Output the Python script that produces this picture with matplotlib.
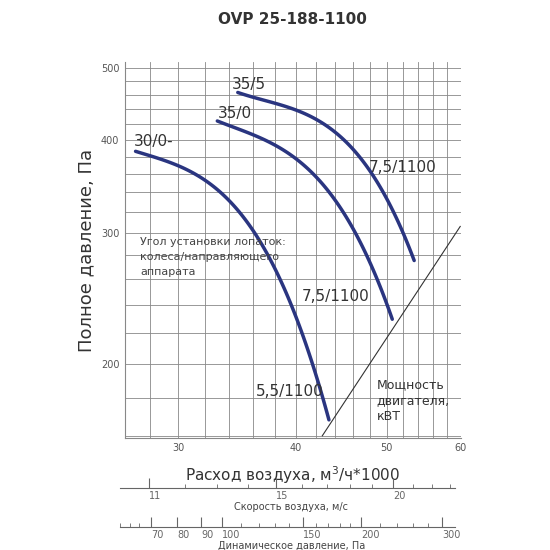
import matplotlib
matplotlib.use("Agg")
import matplotlib.pyplot as plt
import numpy as np
from matplotlib.ticker import FixedLocator, NullFormatter, ScalarFormatter

c1_x = [27.0, 30.2, 32.8, 35.7, 38.2, 40.5, 42.2, 43.4]
c1_y = [386, 368, 346, 306, 265, 222, 192, 167]
c2_x = [33.0, 37.2, 42.2, 45.9, 48.6, 50.7]
c2_y = [424, 400, 354, 306, 265, 229]
c3_x = [34.7, 38.8, 44.0, 48.6, 51.5, 53.5]
c3_y = [463, 446, 409, 354, 312, 274]
pw_x = [42.7, 59.9]
pw_y = [160, 306]
x_ticks = [30, 40, 50, 60]
y_ticks = [200, 300, 400, 500]
v_ticks = [11, 15, 20]
p_ticks = [70, 80, 90, 100, 150, 200, 300]

fig = plt.figure(figsize=(5.5, 5.5), dpi=100)
ax = fig.add_axes([0.227, 0.204, 0.611, 0.683])
ax.set_xscale('log'); ax.set_yscale('log')
ax.set_xlim(26.3, 60); ax.set_ylim(159, 509)
ax.xaxis.set_major_locator(FixedLocator(x_ticks))
ax.xaxis.set_minor_locator(FixedLocator(np.arange(28, 60, 2)))
ax.yaxis.set_major_locator(FixedLocator(y_ticks))
ax.yaxis.set_minor_locator(FixedLocator(np.arange(160, 509, 20)))
for a in (ax.xaxis, ax.yaxis):
    a.set_major_formatter(ScalarFormatter())
    a.set_minor_formatter(NullFormatter())
ax.grid(True, which='both', color='#888888', lw=0.6)
ax.tick_params(which='both', length=0, labelsize=7, colors='#555555', pad=4)
for s in ('top', 'right'):
    ax.spines[s].set_visible(False)
ax.spines['left'].set_color('#888888'); ax.spines['bottom'].set_color('#888888')

col = '#2a3580'
for xs, ys in ((c1_x, c1_y), (c2_x, c2_y), (c3_x, c3_y)):
    lx, ly = np.log(xs), np.log(ys)
    p = np.polyfit(lx, ly, 3)
    t = np.linspace(lx[0], lx[-1], 100)
    ax.plot(np.exp(t), np.exp(np.polyval(p, t)), color=col, lw=2.5, solid_capstyle='round')
ax.plot(pw_x, pw_y, color='#333333', lw=0.8)

ax.text(26.9, 392, '30/0-', fontsize=11, color='#333333')
ax.text(33.0, 428, '35/0', fontsize=11, color='#333333')
ax.text(34.2, 468, '35/5', fontsize=11, color='#333333')
ax.text(47.8, 362, '7,5/1100', fontsize=11, color='#333333')
ax.text(40.6, 243, '7,5/1100', fontsize=11, color='#333333')
ax.text(36.3, 181, '5,5/1100', fontsize=11, color='#333333')
ax.text(27.3, 262, 'Угол установки лопаток:\nколеса/направляющего\nаппарата', fontsize=8,
        color='#444444', linespacing=1.6, va='bottom')
ax.text(48.8, 168, 'Мощность\nдвигателя,\nкВТ', fontsize=9, color='#333333', linespacing=1.3)

ax.set_ylabel('Полное давление, Па', fontsize=13, color='#333333')
ax.set_xlabel('Расход воздуха, м$^3$/ч*1000', fontsize=11, color='#333333', labelpad=8)
fig.text(0.532, 0.965, 'OVP 25-188-1100', ha='center', va='center', fontsize=11, weight='bold', color='#333333')

def scale_axis(y, lo, hi, majors, minors):
    a = fig.add_axes([0.218, y, 0.61, 0.001])
    a.set_xscale('log'); a.set_xlim(lo, hi)
    a.set_yticks([])
    for s in ('top', 'left', 'right'):
        a.spines[s].set_visible(False)
    a.spines['bottom'].set_color('#666666')
    a.xaxis.set_major_locator(FixedLocator(majors))
    a.xaxis.set_minor_locator(FixedLocator(minors))
    a.xaxis.set_major_formatter(ScalarFormatter())
    a.xaxis.set_minor_formatter(NullFormatter())
    a.tick_params(which='both', direction='in', colors='#666666', labelsize=7, pad=2)
    a.tick_params(which='major', length=7)
    a.tick_params(which='minor', length=3)
    for t in a.get_xticklabels():
        t.set_horizontalalignment('left')
    return a

scale_axis(0.113, 10.24, 23.3, v_ticks, [12, 13, 14, 16, 17, 18, 19, 21, 22, 23])
fig.text(0.53, 0.073, 'Скорость воздуха, м/с', fontsize=7, ha='center', color='#444444')
scale_axis(0.042, 60, 321, p_ticks, [60, 63, 66, 110, 120, 130, 140, 160, 170, 180, 190, 220, 240, 260, 280])
fig.text(0.53, 0.002, 'Динамическое давление, Па', fontsize=7, ha='center', color='#444444')

fig.savefig('out.png', dpi=100)
